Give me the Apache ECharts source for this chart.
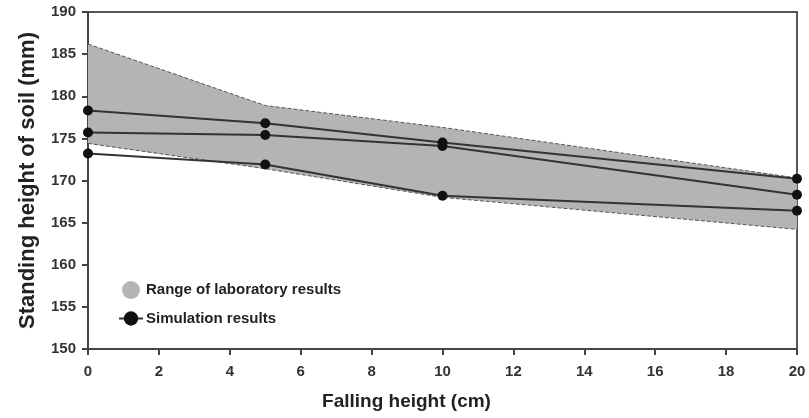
<!DOCTYPE html>
<html style="height: 100%">
   <head>
       <meta charset="utf-8">
   </head>
   <body style="height: 100%; margin: 0; background: #fff">
       <div id="container" style="width: 809px; height: 418px"></div>
       <script type="text/javascript" src="https://cdn.jsdelivr.net/npm/echarts@6/dist/echarts.min.js"></script>
       <script type="text/javascript">
// falling heights (cm)
var fallHeights = [0, 5, 10, 20];
// range of laboratory results (mm)
var labUpper = [186.2, 178.9, 176.3, 170.3];
var labLower = [174.4, 171.4, 168.0, 164.2];
// simulation results (mm)
var simA = [178.3, 176.8, 174.5, 170.2];
var simB = [175.7, 175.4, 174.1, 168.3];
var simC = [173.2, 171.9, 168.2, 166.4];

var dom = document.getElementById("container");
var myChart = echarts.init(dom);

function pairs(ys) {
    return fallHeights.map(function (x, i) { return [x, ys[i]]; });
}
// one row per point: x, lower, upper
var labRows = fallHeights.map(function (x, i) { return [x, labLower[i], labUpper[i]]; });

var font = 'Liberation Sans';
var bandColor = '#b4b4b4';
var edge = { color: '#555', width: 1, type: 'dashed' };

function simSeries(ys) {
    return {
        name: 'Simulation results',
        type: 'line',
        data: pairs(ys),
        symbol: 'circle',
        symbolSize: 10,
        z: 5,
        itemStyle: { color: '#111' },
        lineStyle: { color: '#333', width: 2 }
    };
}

function edgeSeries(ys) {
    return {
        name: 'labEdge',
        type: 'line',
        data: pairs(ys),
        symbol: 'none',
        lineStyle: edge,
        z: 3
    };
}

var option = {
    animation: false,
    grid: {
        left: 88, right: 12, top: 12, bottom: 69,
        show: true, borderColor: '#555', borderWidth: 2
    },
    legend: {
        left: 113, top: 276, orient: 'vertical',
        itemGap: 12, itemWidth: 24, itemHeight: 18,
        textStyle: { fontFamily: font, fontSize: 15, fontWeight: 'bold', color: '#222', padding: [0, 0, 0, -2] },
        data: [
            { name: 'Range of laboratory results', icon: 'circle' },
            'Simulation results'
        ]
    },
    xAxis: {
        type: 'value', min: 0, max: 20, interval: 2,
        name: 'Falling height (cm)', nameLocation: 'middle', nameGap: 43,
        nameTextStyle: { fontFamily: font, fontSize: 19, fontWeight: 'bold', color: '#222', padding: [0, 72, 0, 0] },
        axisLine: { lineStyle: { color: '#444', width: 2 } },
        axisTick: { length: 6, lineStyle: { color: '#444', width: 2 } },
        axisLabel: { fontFamily: font, fontSize: 15, fontWeight: 'bold', color: '#333', margin: 15 },
        splitLine: { show: false }
    },
    yAxis: {
        type: 'value', min: 150, max: 190, interval: 5,
        name: 'Standing height of soil (mm)', nameLocation: 'middle', nameGap: 49,
        nameTextStyle: { fontFamily: font, fontSize: 22, fontWeight: 'bold', color: '#222' },
        axisLine: { show: true, lineStyle: { color: '#444', width: 2 } },
        axisTick: { show: true, length: 6, lineStyle: { color: '#444', width: 2 } },
        axisLabel: { fontFamily: font, fontSize: 15, fontWeight: 'bold', color: '#333', margin: 12 },
        splitLine: { show: false }
    },
    series: [
        {
            name: 'Range of laboratory results',
            type: 'custom',
            data: labRows,
            itemStyle: { color: bandColor },
            z: 1,
            renderItem: function (params, api) {
                if (params.dataIndex !== 0) return null;
                var top = labRows.map(function (r) { return api.coord([r[0], r[2]]); });
                var bottom = labRows.map(function (r) { return api.coord([r[0], r[1]]); }).reverse();
                return {
                    type: 'polygon',
                    shape: { points: top.concat(bottom) },
                    style: { fill: bandColor }
                };
            }
        },
        edgeSeries(labUpper),
        edgeSeries(labLower),
        simSeries(simA),
        simSeries(simB),
        simSeries(simC)
    ]
};
myChart.setOption(option, true);
       </script>
   </body>
</html>
